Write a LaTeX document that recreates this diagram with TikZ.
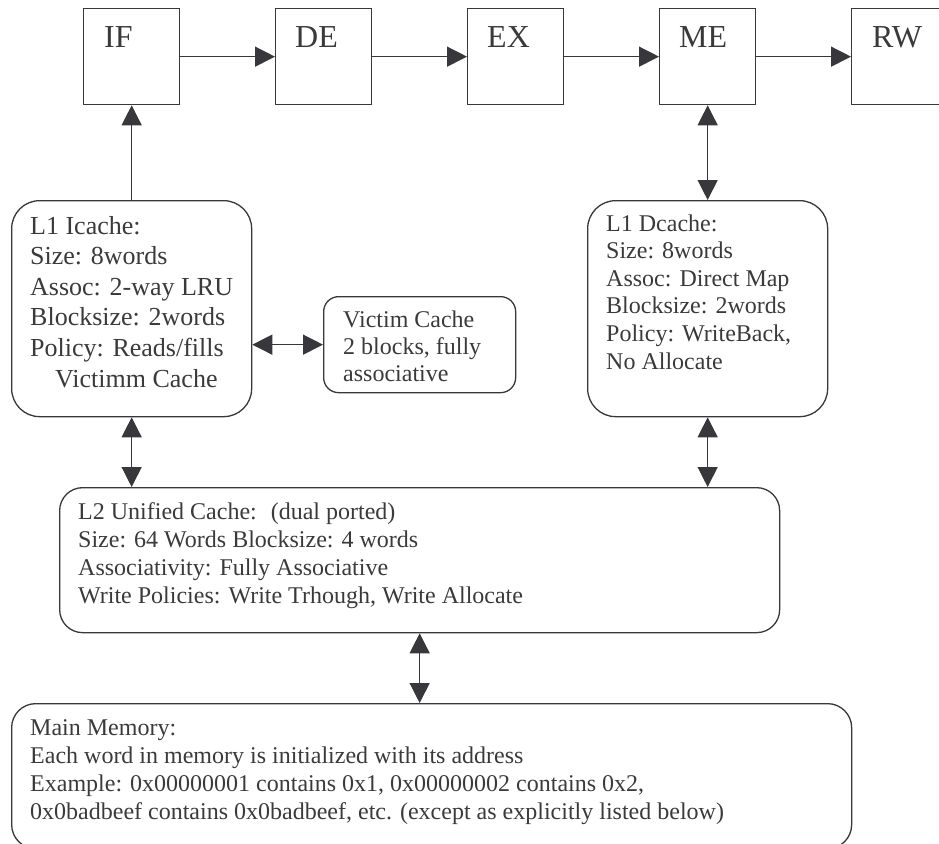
\documentclass[tikz,border=0pt]{standalone}
\usepackage{fontspec}
\setmainfont{Liberation Serif}
\usetikzlibrary{arrows.meta,calc}
\definecolor{ink}{RGB}{55,55,60}
\definecolor{txtc}{RGB}{58,58,60}
\newcommand{\btext}[4]{\parbox[t]{#1pt}{\fontsize{#2}{#3}\selectfont #4}}
\tikzset{
  box/.style={draw=ink, line width=1.3pt, inner sep=0pt, anchor=north west},
  rbox/.style={box, rounded corners=#1},
  lbl/.style={anchor=base west, inner sep=0pt, text=txtc},
  conn/.style={draw=ink, line width=1.3pt},
  one/.style={conn, -{Triangle[length=20pt,width=20pt]}},
  two/.style={conn, {Triangle[length=20pt,width=20pt]}-{Triangle[length=20pt,width=20pt]}}
}
\begin{document}
\begin{tikzpicture}[x=1pt,y=-1pt]
\useasboundingbox (0,0) rectangle (939,843);
\clip (0,0) rectangle (939,843);
% pipeline stages
\node[box, minimum width=96pt, minimum height=96pt] (ifb) at (83,8) {};
\node[box, minimum width=96pt, minimum height=96pt] (de) at (275,8) {};
\node[box, minimum width=96pt, minimum height=96pt] (ex) at (467,8) {};
\node[box, minimum width=96pt, minimum height=96pt] (me) at (659,8) {};
\node[box, minimum width=96pt, minimum height=96pt] (rw) at (851,8) {};
\node[lbl, font=\fontsize{32}{36}\selectfont] (ift) at ($(ifb.north west)+(21,40)$) {IF};
\node[lbl, font=\fontsize{32}{36}\selectfont] (det) at ($(de.north west)+(20,40)$) {DE};
\node[lbl, font=\fontsize{32}{36}\selectfont] (ext) at ($(ex.north west)+(20,40)$) {EX};
\node[lbl, font=\fontsize{32}{36}\selectfont] (met) at ($(me.north west)+(20,40)$) {ME};
\node[lbl, font=\fontsize{32}{36}\selectfont] (rwt) at ($(rw.north west)+(21,40)$) {RW};
% caches
\node[rbox=28pt, minimum width=240pt, minimum height=216pt] (icache) at (11,200) {};
\node[lbl] (icachet) at ($(icache.north west)+(19,34)$) {\btext{300}{26}{30.6}{L1 Icache:\\Size: 8words\\Assoc: 2-way LRU\\Blocksize: 2words\\Policy: Reads/fills\\\hspace*{25pt}Victimm Cache}};
\node[rbox=15pt, minimum width=192pt, minimum height=96pt] (victim) at (323,296) {};
\node[lbl] (victimt) at ($(victim.north west)+(20,31)$) {\btext{300}{24}{27}{Victim Cache\\2 blocks, fully\\associative}};
\node[rbox=28pt, minimum width=240pt, minimum height=216pt] (dcache) at (587,200) {};
\node[lbl] (dcachet) at ($(dcache.north west)+(19,31)$) {\btext{300}{24}{27.6}{L1 Dcache:\\Size: 8words\\Assoc: Direct Map\\Blocksize: 2words\\Policy: WriteBack,\\No Allocate}};
\node[rbox=23pt, minimum width=720pt, minimum height=145pt] (l2) at (59,487) {};
\node[lbl] (l2t) at ($(l2.north west)+(19,32)$) {\btext{700}{24}{28}{L2 Unified Cache:~ (dual ported)\\Size: 64 Words Blocksize: 4 words\\Associativity: Fully Associative\\Write Policies: Write Trhough, Write Allocate}};
\node[rbox=24pt, minimum width=840pt, minimum height=145pt] (mem) at (11,703) {};
\node[lbl] (memt) at ($(mem.north west)+(19,32)$) {\btext{820}{24}{28}{Main Memory:\\Each word in memory is initialized with its address\\Example: 0x00000001 contains 0x1, 0x00000002 contains 0x2,\\0x0badbeef contains 0x0badbeef, etc. (except as explicitly listed below)}};
% connectors
\draw[one] (ifb.east) -- (de.west);
\draw[one] (de.east) -- (ex.west);
\draw[one] (ex.east) -- (me.west);
\draw[one] (me.east) -- (rw.west);
\draw[one] (icache.north) -- (ifb.south);
\draw[two] (me.south) -- (dcache.north);
\draw[two] (victim.west -| icache.east) -- (victim.west);
\draw[two] (icache.south) -- (icache.south |- l2.north);
\draw[two] (dcache.south) -- (dcache.south |- l2.north);
\draw[two] (l2.south) -- (l2.south |- mem.north);
\end{tikzpicture}
\end{document}
